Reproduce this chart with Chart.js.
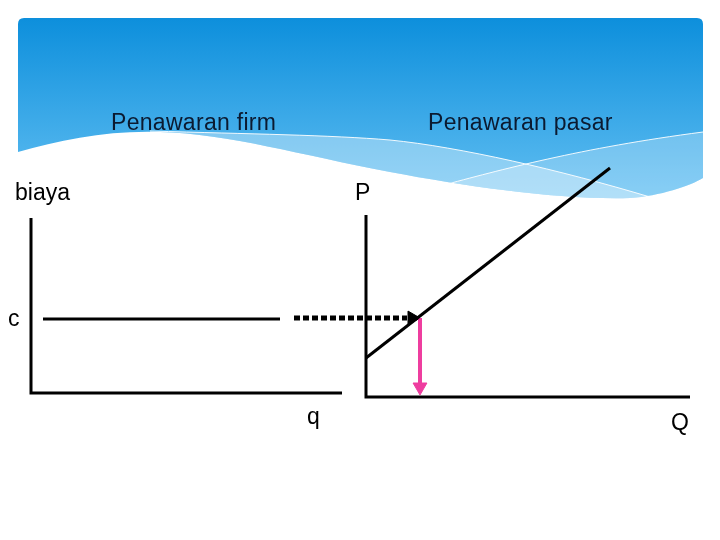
<!DOCTYPE html>
<html>
<head>
<meta charset="utf-8">
<script src="https://cdn.jsdelivr.net/npm/chart.js@4"></script>
<style>
  body { margin: 0; background: #fff; }
  #wrap { position: relative; width: 720px; height: 540px; }
  canvas { position: absolute; left: 0; top: 0; }
  .lbl { position: absolute; font-family: "Liberation Sans", Arial, sans-serif; font-size: 23px; line-height: 23px; color: #000; white-space: nowrap; }
  .head { color: #0b1a30; letter-spacing: 0.3px; }
</style>
</head>
<body>
<div id="wrap">
  <canvas id="supplyChart" width="720" height="540"></canvas>
  <div class="lbl head" style="left:111px; top:111px;">Penawaran firm</div>
  <div class="lbl head" style="left:428px; top:111px;">Penawaran pasar</div>
  <div class="lbl" style="left:15px; top:181px;">biaya</div>
  <div class="lbl" style="left:355px; top:181px;">P</div>
  <div class="lbl" style="left:8px; top:307px;">c</div>
  <div class="lbl" style="left:307px; top:405px;">q</div>
  <div class="lbl" style="left:671px; top:411px;">Q</div>
</div>
<script>
// firm panel: price axis + quantity axis (one polyline)
const firmAxisQ = [0, 0, 31.1];
const firmAxisP = [17.5, 0, 0];
// firm cost level c
const costQ = [1.2, 24.9];
const costP = [7.4, 7.4];
// market panel axes
const marketAxisQ = [33.5, 33.5, 65.9];
const marketAxisP = [17.8, -0.4, -0.4];
// market supply curve
const supplyQ = [33.5, 57.9];
const supplyP = [3.5, 22.5];
// dotted transfer of c to the market panel
const transferQ = [26.3, 37.6];
const transferP = [7.5, 7.5];
const transferHead = { x: 38.1, y: 7.5 };
// drop down to market quantity
const dropQ = [38.9, 38.9];
const dropP = [7.5, 0.8];
const dropHead = { x: 38.9, y: 0.6 };

const pts = (xs, ys) => xs.map((x, i) => ({ x: x, y: ys[i] }));

const line = (data, color, width, extra) => Object.assign({
    data: data,
    showLine: true,
    borderColor: color,
    borderWidth: width,
    pointRadius: 0,
    borderCapStyle: 'butt',
    fill: false
}, extra || {});

const headerBg = {
    id: 'headerBg',
    beforeDraw(chart) {
        const ctx = chart.ctx;
        ctx.save();
        const shape = new Path2D('M18,24 Q18,18 24,18 L697,18 Q703,18 703,24 L703,178 C690,186 660,196 630,198 C560,200 470,187 390,172 C300,155 230,134 160,132 C110,130 60,140 18,152 Z');
        ctx.clip(shape);
        const g = ctx.createLinearGradient(0, 18, 0, 200);
        g.addColorStop(0, '#0d8fdc');
        g.addColorStop(1, '#62bff2');
        ctx.fillStyle = g;
        ctx.fillRect(0, 0, 720, 260);
        // lighter bands
        ctx.fillStyle = 'rgba(255,255,255,0.35)';
        ctx.fill(new Path2D('M150,131 C250,134 330,135 390,140 C460,147 560,170 650,197 L650,260 L150,260 Z'));
        ctx.fillStyle = 'rgba(255,255,255,0.25)';
        ctx.fill(new Path2D('M440,186 C500,170 580,148 703,132 L703,260 L440,260 Z'));
        // thin white curves
        ctx.strokeStyle = 'rgba(255,255,255,0.9)';
        ctx.lineWidth = 1;
        ctx.stroke(new Path2D('M150,131 C250,134 330,135 390,140 C460,147 560,170 650,197'));
        ctx.stroke(new Path2D('M440,186 C500,170 580,148 703,132'));
        ctx.restore();
    }
};

const ctx = document.getElementById('supplyChart').getContext('2d');

new Chart(ctx, {
    type: 'scatter',
    data: {
        datasets: [
            line(pts(firmAxisQ, firmAxisP), '#000', 3, { borderJoinStyle: 'miter' }),
            line(pts(costQ, costP), '#000', 3),
            line(pts(marketAxisQ, marketAxisP), '#000', 3, { borderJoinStyle: 'miter' }),
            line(pts(supplyQ, supplyP), '#000', 3),
            line(pts(transferQ, transferP), '#000', 5, { borderDash: [6, 3] }),
            line(pts(dropQ, dropP), '#ee3d9f', 4),
            {
                data: [transferHead],
                pointStyle: 'triangle',
                rotation: 90,
                pointRadius: 8,
                pointBackgroundColor: '#000',
                pointBorderColor: '#000',
                pointBorderWidth: 1
            },
            {
                data: [dropHead],
                pointStyle: 'triangle',
                rotation: 180,
                pointRadius: 8,
                pointBackgroundColor: '#ee3d9f',
                pointBorderColor: '#ee3d9f',
                pointBorderWidth: 1
            }
        ]
    },
    options: {
        responsive: false,
        animation: false,
        layout: { padding: 0, autoPadding: false },
        scales: {
            x: { type: 'linear', min: -3.1, max: 68.9, display: false },
            y: { type: 'linear', min: -14.7, max: 39.3, display: false }
        },
        plugins: {
            legend: { display: false },
            tooltip: { enabled: false }
        }
    },
    plugins: [headerBg]
});
</script>
</body>
</html>
